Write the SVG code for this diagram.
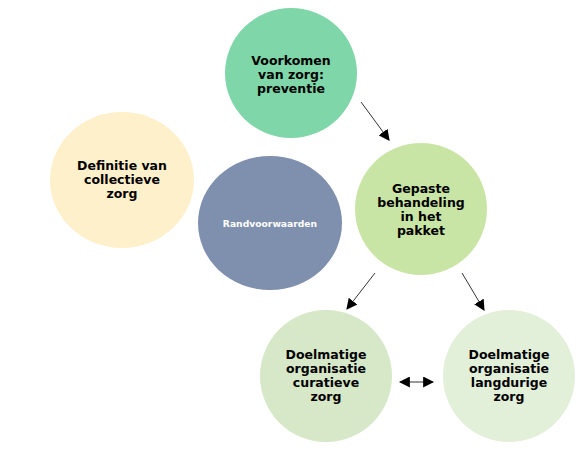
<svg xmlns="http://www.w3.org/2000/svg" width="587" height="461" viewBox="0 0 587 461">
<defs>
<style>
.t{font-family:"DejaVu Sans",Verdana,sans-serif;font-weight:bold;font-size:12.5px;fill:#000;text-anchor:middle}
.w{font-family:"DejaVu Sans",Verdana,sans-serif;font-weight:bold;font-size:9.2px;fill:#fff;text-anchor:middle}
.c{stroke:#333;stroke-width:1;fill:none}
</style>
<marker id="ah" viewBox="0 0 10 10" refX="9" refY="5" markerWidth="11" markerHeight="11" markerUnits="userSpaceOnUse" orient="auto-start-reverse">
<path d="M0,0 L10,5 L0,10 z" fill="#000"/>
</marker>
</defs>
<rect width="587" height="461" fill="#fff"/>
<g id="n1"><ellipse cx="291" cy="73" rx="66" ry="65" fill="#7fd6a8"/>
<text class="t" x="291" y="65">Voorkomen</text><text class="t" x="291" y="79">van zorg:</text><text class="t" x="291" y="93">preventie</text></g>
<g id="n2"><ellipse cx="421" cy="209" rx="66" ry="66" fill="#c9e5a5"/>
<text class="t" x="421" y="193">Gepaste</text><text class="t" x="421" y="207">behandeling</text><text class="t" x="421" y="221">in het</text><text class="t" x="421" y="235">pakket</text></g>
<g id="n3"><ellipse cx="122" cy="180" rx="72" ry="68" fill="#fff0cc"/>
<text class="t" x="122" y="170">Definitie van</text><text class="t" x="122" y="184">collectieve</text><text class="t" x="122" y="198">zorg</text></g>
<g id="n4"><ellipse cx="270" cy="223" rx="72" ry="67" fill="#7f8fae"/>
<text class="w" x="270" y="227">Randvoorwaarden</text></g>
<g id="n5"><ellipse cx="326" cy="376" rx="66" ry="66" fill="#d6e8c8"/>
<text class="t" x="326" y="359">Doelmatige</text><text class="t" x="326" y="373">organisatie</text><text class="t" x="326" y="387">curatieve</text><text class="t" x="326" y="401">zorg</text></g>
<g id="n6"><ellipse cx="509" cy="376" rx="66" ry="66" fill="#e2efd9"/>
<text class="t" x="509" y="359">Doelmatige</text><text class="t" x="509" y="373">organisatie</text><text class="t" x="509" y="387">langdurige</text><text class="t" x="509" y="401">zorg</text></g>
<g id="connectors">
<line class="c" x1="361" y1="102" x2="389" y2="140" marker-end="url(#ah)"/>
<line class="c" x1="375" y1="273" x2="347" y2="309" marker-end="url(#ah)"/>
<line class="c" x1="462" y1="273" x2="484" y2="310" marker-end="url(#ah)"/>
<line class="c" x1="400" y1="382" x2="433" y2="382" marker-start="url(#ah)" marker-end="url(#ah)"/>
</g>
</svg>
